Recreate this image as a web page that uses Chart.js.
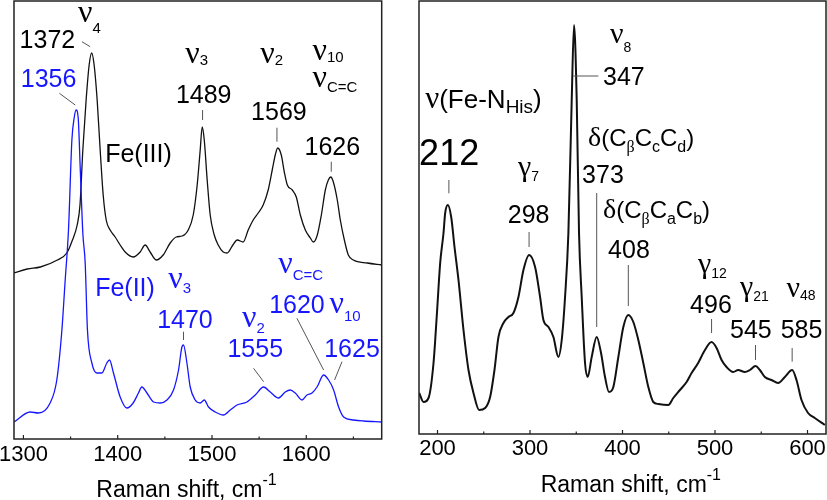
<!DOCTYPE html>
<html>
<head>
<meta charset="utf-8">
<script src="https://cdn.jsdelivr.net/npm/chart.js@4.4.1/dist/chart.umd.min.js"></script>
<style>
  html, body { margin:0; padding:0; background:#fff; }
  #wrap { position:relative; width:827px; height:500px; }
  .pane { position:absolute; top:0; height:500px; }
  #pl { left:0; width:405px; }
  #pr { left:405px; width:422px; }
</style>
</head>
<body>
<div id="wrap">
  <div class="pane" id="pl"><canvas id="cl"></canvas></div>
  <div class="pane" id="pr"><canvas id="cr"></canvas></div>
</div>
<script>
// ---- data (Raman shift in cm-1, intensity in arbitrary units) ----
const fe3Shift = [1290,1304,1318,1336,1346,1352,1357,1360,1363,1366.5,1369.7,1372.4,1375,1378.2,1381.4,1384.6,1387.8,1392,1397.3,1402.6,1407.9,1416.4,1423.8,1429.1,1434.4,1440.8,1448.2,1455.7,1462.1,1468.4,1474.8,1480.1,1484.3,1487.5,1489.6,1491.8,1494.9,1498.1,1502.4,1506.6,1511.9,1516.1,1521.5,1526.8,1533.1,1538.4,1543.7,1549,1554.3,1559.6,1563.9,1567.1,1569.7,1573.5,1576.7,1579.9,1585.2,1589.4,1593.7,1599,1604.3,1607.5,1611.7,1616,1620.2,1623.4,1626,1628.7,1632.9,1636.1,1640.4,1644.6,1649.9,1664.8,1680];
const fe3Int   = [166,170,172,179,186,199,214,234,289,339,374,386,374,339,289,244,219,209,202,194,187,182,187,194,187,179,184,196,202,203,209,224,254,289,312,299,259,224,204,194,187,186,193,199,197,209,219,226,234,249,269,284,291,284,267,254,249,242,224,209,201,197,204,224,249,259,262,257,239,219,199,184,179,176,174];

const fe2Shift = [1290,1307.1,1315.9,1328.3,1335.4,1340.8,1344.3,1347.8,1351.4,1353.8,1355.9,1358.1,1360.2,1363,1365.5,1367.9,1372.6,1377.9,1383.2,1388.5,1391.3,1395.5,1402.6,1409.7,1416.4,1422,1425.6,1431,1438,1445.1,1452.2,1459.2,1464.5,1468.1,1469.8,1473.4,1476.9,1482.2,1487.5,1491.8,1496.3,1503.4,1512.2,1519.4,1526.5,1537.1,1545.9,1554.7,1561.8,1570.6,1577.7,1583,1588.3,1595.4,1600.7,1606.1,1611.4,1618.4,1623.7,1629,1634.3,1639.6,1650.2,1660.8,1680];
const fe2Int   = [17,27,26,36,59,109,159,209,299,321,329,321,272,206,176,109,76,66,66,76,79,66,42,31,36,46,52,46,37,36,39,49,69,92,94,76,52,39,36,39,32,27,24,29,34,37,44,52,47,41,47,49,46,39,44,46,52,64,59,49,32,22,19,18,17];

const lowShift = [180.2,184.9,190.3,195.7,199.4,202.9,206.5,208.3,211.2,214.8,218.4,222.7,228.1,233.5,238.9,245,251.5,256.9,261.6,265.9,271.3,276.7,282.1,287.5,292.9,299,305.5,310.9,314.5,319.9,325.3,330.7,334.3,337.9,341.5,345.1,347.6,350.5,353,355.9,359.5,362.4,366.7,372.1,376.8,381.1,385.4,390.1,395.5,400.9,406.3,411.7,417.1,422.5,427.9,433.3,438.7,449.5,454.9,462.1,469.3,474.7,481.8,489.1,496.3,501.7,507.1,512.5,519.7,525,532.3,537.7,543.8,548.5,553.9,561.1,568.2,575.5,583.4,588.1,593.5,600.6,607.9,618.7];
const lowInt   = [41,32,36,71,121,171,201,221,229,217,187,154,104,64,41,24,26,37,64,97,111,117,121,137,164,179,167,137,114,107,97,77,94,137,201,334,409,334,201,137,71,57,77,97,81,57,42,47,77,107,119,112,94,71,47,32,30,29,36,44,52,61,71,84,92,86,74,67,62,64,62,64,68,64,57,54,51,57,64,54,34,21,16,9];

const highTicks = [1300,1350,1400,1450,1500,1550,1600,1650];
const lowTicks  = [200,250,300,350,400,450,500,550,600];

// band labels: anchor in (shift, intensity)
const fe3Notes = [
  {x:1325.4, y:391, t:'1372'},
  {x:1358.0, y:417, t:'ν_{4}', a:'left', k:'mode', dy:11},
  {x:1386.7, y:277, t:'Fe(III)', a:'left'},
  {x:1471.6, y:376, t:'ν_{3}', a:'left', k:'mode', dy:2},
  {x:1491.2, y:336, t:'1489'},
  {x:1551.2, y:376, t:'ν_{2}', a:'left', k:'mode', dy:2},
  {x:1571.0, y:319, t:'1569'},
  {x:1606.6, y:379, t:'ν_{10}', a:'left', k:'mode', dy:2},
  {x:1606.6, y:352, t:'ν_{C=C}', a:'left', k:'mode', dy:5},
  {x:1627.6, y:284, t:'1626'}
];
const fe2Notes = [
  {x:1326.7, y:352, t:'1356'},
  {x:1376.1, y:143, t:'Fe(II)', a:'left'},
  {x:1453.6, y:151, t:'ν_{3}', a:'left', k:'mode', dy:5},
  {x:1471.3, y:111, t:'1470'},
  {x:1531.8, y:112, t:'ν_{2}', a:'left', k:'mode', dy:6},
  {x:1545.9, y:82, t:'1555'},
  {x:1570.3, y:166, t:'ν_{C=C}', a:'left', k:'mode', dy:7},
  {x:1590.1, y:126, t:'1620'},
  {x:1624.6, y:126, t:'ν_{10}', a:'left', k:'mode', dy:8},
  {x:1648.5, y:82, t:'1625'}
];
const lowNotes = [
  {x:186.7, y:325.7, t:'ν(Fe-N_{His})', a:'left', k:'name'},
  {x:212.6, y:269, t:'212', k:'big'},
  {x:287.1, y:257.6, t:'γ_{7}', a:'left', k:'gam'},
  {x:298.5, y:211, t:'298'},
  {x:386.5, y:391, t:'ν_{8}', a:'left', k:'gam', dy:9},
  {x:378.9, y:349, t:'347', a:'left'},
  {x:362.7, y:288, t:'δ(C_{β}C_{c}C_{d})', a:'left', k:'delta'},
  {x:356.3, y:251, t:'373', a:'left'},
  {x:378.9, y:216, t:'δ(C_{β}C_{a}C_{b})', a:'left', k:'delta'},
  {x:407.0, y:175.7, t:'408'},
  {x:481.5, y:161.3, t:'γ_{12}', a:'left', k:'gam'},
  {x:495.6, y:121, t:'496'},
  {x:526.9, y:137.6, t:'γ_{21}', a:'left', k:'gam'},
  {x:538.8, y:96, t:'545'},
  {x:577.3, y:137.3, t:'ν_{48}', a:'left', k:'gam', dy:3},
  {x:593.5, y:96, t:'585'}
];
// leader lines [x1, y1, x2, y2]
const fe3Leaders = [[1362.0,397.3,1370.8,392.3],[1490.0,329,1490.0,319],[1568.9,311.3,1568.9,297.3],[1626.5,277.3,1626.5,267.3]];
const fe2Leaders = [[1338.2,345.7,1354.9,334],[1469.8,107.3,1469.8,99],[1544.1,70.7,1554.7,57.3],[1590.1,120.7,1618.4,69],[1637.9,77.3,1630.0,59]];
const lowLeaders = [[212.3,254,212.3,240.7],[299.0,202,299.0,187],[346.9,358,373.9,358],[372.1,241,372.1,107],[406.3,169,406.3,128],[496.3,115,496.3,101],[543.8,89,543.8,74],[583.4,86,583.4,72.3]];

const BLUE = '#1717ff';
const STY = {
  num:   {main:25, greek:32, sub:15, dy:6},
  mode:  {main:25, greek:32, sub:15, dy:6},
  big:   {main:36, greek:36, sub:20, dy:8},
  name:  {main:26, greek:31, sub:19, dy:5},
  delta: {main:24, greek:28, sub:16, dy:6},
  gam:   {main:25, greek:30, sub:14, dy:5},
  axis:  {main:23, greek:23, sub:16, dy:0, up:12}
};

// tiny rich-text: _{..} subscript, ^{..} superscript, greek in serif
const GREEK = /[\u0370-\u03ff]/;
function parseRich(str) {
  const out = [];
  const re = /([_^])\{([^}]*)\}|([^_^]+)/g;
  let m;
  while ((m = re.exec(str))) {
    const mode = m[1] === '_' ? 'sub' : m[1] === '^' ? 'sup' : 'main';
    const txt = m[2] !== undefined ? m[2] : m[3];
    for (const ch of txt) {
      const g = GREEK.test(ch);
      const last = out[out.length - 1];
      if (last && last.mode === mode && last.g === g) last.t += ch;
      else out.push({t:ch, mode, g});
    }
  }
  return out;
}
function runFont(r, st) {
  const size = r.mode === 'main' ? (r.g ? st.greek : st.main) : st.sub;
  return size + 'px ' + (r.g ? '"Liberation Serif", serif' : '"Liberation Sans", Arial, sans-serif');
}
function drawRich(ctx, str, x, y, st, align, color, dy) {
  const runs = parseRich(str);
  let w = 0;
  runs.forEach(r => { ctx.font = runFont(r, st); r.w = ctx.measureText(r.t).width; w += r.w; });
  let cx = align === 'left' ? x : x - w / 2;
  ctx.fillStyle = color;
  ctx.textAlign = 'left';
  ctx.textBaseline = 'alphabetic';
  runs.forEach(r => {
    ctx.font = runFont(r, st);
    const oy = r.mode === 'sub' ? (dy ?? st.dy) : r.mode === 'sup' ? -st.up : 0;
    ctx.fillText(r.t, cx, y + oy);
    cx += r.w;
  });
}

const pts = (xs, ys) => xs.map((x, i) => ({x, y: ys[i]}));

function panel(id, o) {
  const deco = {
    id: 'deco',
    afterDatasetsDraw(chart) {
      const {ctx, chartArea: a, scales: {x, y}} = chart;
      const px = v => x.getPixelForValue(v), py = v => y.getPixelForValue(v);
      ctx.save();
      ctx.strokeStyle = '#555';
      ctx.lineWidth = 1;
      o.leaders.forEach(([x1, y1, x2, y2]) => {
        ctx.beginPath(); ctx.moveTo(px(x1), py(y1)); ctx.lineTo(px(x2), py(y2)); ctx.stroke();
      });
      o.notes.forEach(g => g.list.forEach(n =>
        drawRich(ctx, n.t, px(n.x), py(n.y), STY[n.k || 'num'], n.a || 'center', g.color, n.dy)));
      ctx.strokeStyle = '#222';
      ctx.lineWidth = 1.5;
      ctx.strokeRect(a.left, a.top, a.right - a.left, a.bottom - a.top);
      ctx.lineWidth = 1.2;
      o.ticks.forEach(v => {
        const len = v % 100 === 0 ? 4 : 2.5;
        ctx.beginPath(); ctx.moveTo(px(v), a.bottom); ctx.lineTo(px(v), a.bottom - len); ctx.stroke();
      });
      drawRich(ctx, 'Raman shift, cm^{-1}', px(o.titleAt), a.bottom + o.titleDy, STY.axis, 'center', '#000');
      ctx.restore();
    }
  };
  return new Chart(document.getElementById(id), {
    type: 'line',
    data: { datasets: o.datasets },
    options: {
      responsive: true, maintainAspectRatio: false, animation: false,
      layout: { padding: o.pad },
      plugins: { legend: {display:false}, tooltip: {enabled:false} },
      elements: { point: {radius:0}, line: {cubicInterpolationMode:'monotone'} },
      scales: {
        x: {
          type: 'linear', min: o.min, max: o.max,
          grid: {display:false, drawTicks:false}, border: {display:false},
          ticks: {
            color:'#000', padding:o.tickPad, maxRotation:0, autoSkip:false,
            font: {family:'"Liberation Sans", Arial, sans-serif', size:22},
            callback: v => v % 100 === 0 ? String(v) : ''
          },
          afterBuildTicks: s => { s.ticks = o.ticks.map(v => ({value:v})); },
          afterFit: s => { s.height = o.axisH; s.paddingLeft = 0; s.paddingRight = 0; }
        },
        y: { display:false, min:0, max:o.ymax }
      }
    },
    plugins: [deco]
  });
}

panel('cl', {
  min:1290, max:1680, ymax:438, ticks:highTicks,
  pad:{left:14, right:23.3, top:1, bottom:0}, axisH:61, tickPad:3,
  titleAt:1473, titleDy:58,
  leaders: fe3Leaders.concat(fe2Leaders),
  notes: [{list:fe3Notes, color:'#000'}, {list:fe2Notes, color:BLUE}],
  datasets: [
    {data:pts(fe2Shift, fe2Int), borderColor:BLUE, borderWidth:1.3},
    {data:pts(fe3Shift, fe3Int), borderColor:'#111', borderWidth:1.3}
  ]
});

panel('cr', {
  min:180, max:620, ymax:433, ticks:lowTicks,
  pad:{left:14, right:1, top:1, bottom:0}, axisH:66, tickPad:2,
  titleAt:409, titleDy:58,
  leaders: lowLeaders,
  notes: [{list:lowNotes, color:'#000'}],
  datasets: [
    {data:pts(lowShift, lowInt), borderColor:'#111', borderWidth:2}
  ]
});
</script>
</body>
</html>
